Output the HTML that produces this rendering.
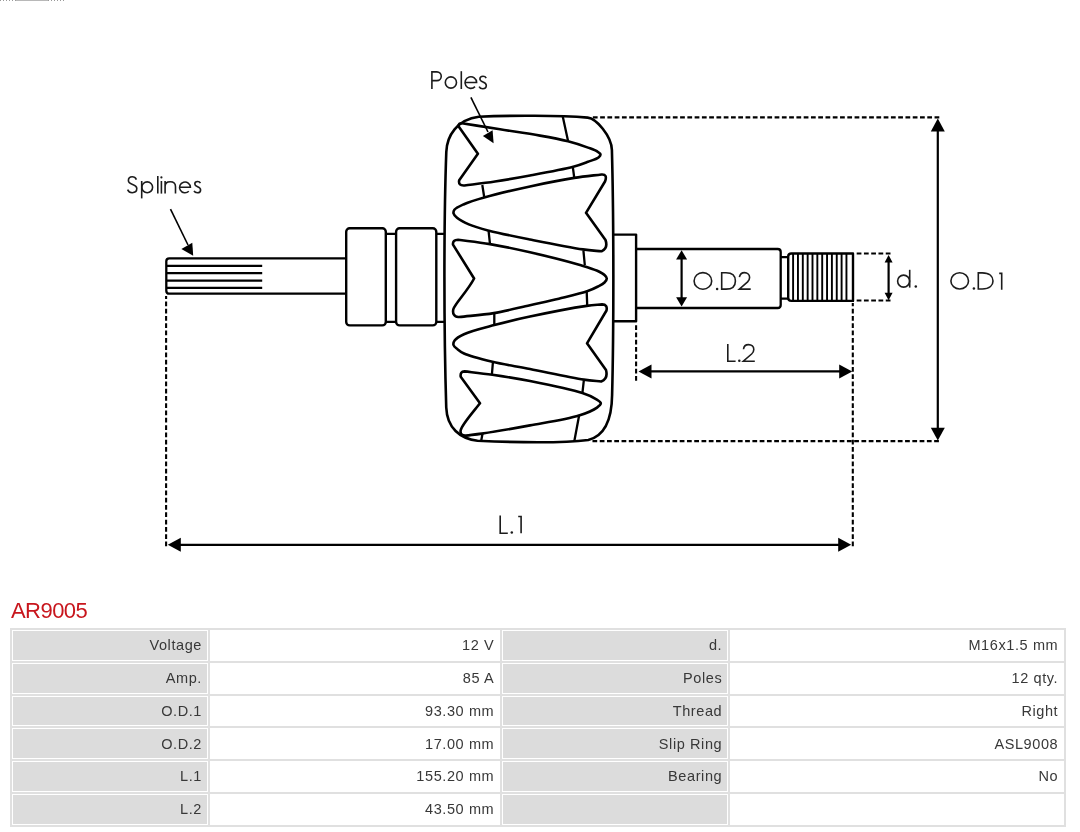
<!DOCTYPE html>
<html><head><meta charset="utf-8">
<style>
html,body{margin:0;padding:0;background:#fff;width:1080px;height:832px;overflow:hidden;position:relative}
body{font-family:"Liberation Sans",sans-serif}
#draw{position:absolute;left:0;top:0}
#title{will-change:transform;position:absolute;left:11px;top:597px;font-size:22px;letter-spacing:-0.55px;color:#c8161d;line-height:28px;white-space:nowrap}
#tbl{will-change:transform;position:absolute;left:10px;top:628px;border-collapse:separate;border-spacing:2px;background:#e0e0e0;table-layout:fixed;width:1056px}
#tbl td{border:1px solid #fff;height:28.75px;padding:0 5px 0 0;letter-spacing:0.6px;text-align:right;font-size:14.5px;color:#383838;white-space:nowrap;box-sizing:content-box;line-height:16px}
#tbl td.l{background:#dcdcdc}
#tbl td.v{background:#fff}
</style></head><body>
<svg id="draw" width="1080" height="600" viewBox="0 0 1080 600">
<g fill="none" stroke="#000" stroke-linejoin="round" stroke-linecap="butt">
 <!-- splined shaft -->
 <path d="M346.2,258.3 H169.3 Q166.3,258.3 166.3,261.3 V290.7 Q166.3,293.7 169.3,293.7 H346.2" stroke-width="2.3"/>
 <path d="M166.3,265.9 H262.2 M166.3,273.2 H262.2 M166.3,280.6 H262.2 M166.3,287.8 H262.2" stroke-width="2.3"/>
 <!-- rings -->
 <rect x="346.2" y="228.3" width="39.6" height="97.1" rx="3.5" stroke-width="2.4"/>
 <rect x="396.1" y="228.3" width="40.2" height="97.1" rx="3.5" stroke-width="2.4"/>
 <path d="M385.8,233.8 H396.1 M385.8,321.8 H396.1 M436.3,233.8 H445 M436.3,321.8 H445" stroke-width="2.3"/>
 <!-- collar + shaft -->
 <path d="M613,234.6 H636.1 V321.3 H613" stroke-width="2.4"/>
 <path d="M636.1,249 H777.7 Q780.7,249 780.7,252 V305 Q780.7,308 777.7,308 H636.1" stroke-width="2.3"/>
 <path d="M780.7,257.2 H788.2 M780.7,298.7 H788.2" stroke-width="2.3"/>
 <path d="M853,253.5 H791.3 Q788.2,253.5 788.2,256.6 V297.8 Q788.2,300.9 791.3,300.9 H853 Z" stroke-width="2.4"/>
 <path d="M793.10,253.5 V300.9 M797.95,253.5 V300.9 M802.80,253.5 V300.9 M807.65,253.5 V300.9 M812.50,253.5 V300.9 M817.35,253.5 V300.9 M822.20,253.5 V300.9 M827.05,253.5 V300.9 M831.90,253.5 V300.9 M836.75,253.5 V300.9 M841.60,253.5 V300.9 M846.45,253.5 V300.9" stroke-width="1.9"/>
 <!-- rotor outline -->
 <path d="M478.8,116.8 C510,115.2 560,115.4 587.7,117.6 C596,118.2 611.5,136 611.9,150 C613.8,220 613.8,330 612.1,395 C611.8,420 604,436 588.3,440 C570,442.3 540,443.5 477.5,440.8 C460,438.5 447,428 446.25,407.5 C443.8,330 443.8,220 446.3,152 C446.8,136 457,119.5 478.8,116.8 Z" stroke-width="2.6"/>
 <!-- core lines -->
 <path d="M562.7,116.3 L568,140.8 M572.8,166.8 L574.2,177.4 M482.3,185 L484.2,197 M488.6,231.2 L490,244.1 M583.4,250.4 L584.8,265 M586.7,291.4 L587.2,305.4 M494.3,313.1 L494.3,324.6 M492.9,362.3 L491.9,374.3 M583.8,380.6 L582.4,393.1 M579.2,415 L574.2,441.7 M482.5,433.75 L481.25,440.5" stroke-width="2.3"/>
 <!-- poles -->
 <g stroke-width="2.6">
 <path d="M458.5,126.2 Q458.6,123 462,123.2 C474.7,125.2 487.2,127.3 500.0,129.3 C513.2,131.4 527.9,133.4 540.0,135.6 C550.2,137.4 559.5,139.1 568.0,141.3 C575.3,143.2 582.6,145.6 588.0,147.6 C591.8,149.0 595.3,150.1 597.5,151.6 C598.9,152.5 600.4,153.6 600.5,154.6 C600.6,155.5 599.6,156.5 598.5,157.4 C596.5,159.0 591.8,160.4 588.0,161.8 C583.5,163.5 579.6,165.1 573.3,166.8 C562.7,169.6 543.7,173.0 530.0,175.5 C517.7,177.8 506.3,179.8 495.0,181.5 C484.5,183.1 474.7,184.2 464.5,185.5 Q458,186 459.2,180.2 L477.9,153.8 L458.5,126.2 Z"/>
 <path d="M601.5,174.5 Q607.8,174 605,181.5 L586,212.8 L605.5,240 Q608.3,248 601.5,251.3 C595.3,250.7 590.7,250.5 582.9,249.4 C569.7,247.5 546.5,242.8 530.0,239.5 C515.4,236.6 500.2,233.6 489.0,230.7 C481.0,228.6 474.5,226.9 468.8,224.4 C464.2,222.4 459.6,220.0 457.0,217.8 C455.3,216.4 453.9,215.1 453.6,213.6 C453.3,212.4 453.5,211.0 454.4,209.8 C455.9,207.8 460.1,206.0 464.0,204.2 C469.4,201.8 476.0,199.8 484.2,197.5 C496.3,194.0 514.8,189.7 530.0,186.4 C544.8,183.2 561.2,180.0 574.2,177.9 C584.4,176.3 592.4,175.6 601.5,174.5 Z"/>
 <path d="M453,244.6 Q452.5,239.8 458,239.8 C468.7,241.2 478.8,242.2 490.0,244.1 C502.6,246.2 516.0,249.1 530.0,252.3 C545.8,255.9 567.7,261.4 580.0,265.0 C587.3,267.2 592.9,268.8 597.3,270.8 C600.3,272.2 602.9,273.5 604.5,275.0 C605.7,276.1 606.8,277.3 606.8,278.5 C606.8,279.8 605.7,281.3 604.5,282.5 C603.0,284.0 600.5,285.2 598.0,286.5 C595.0,288.1 592.1,289.5 587.7,291.0 C580.6,293.5 568.4,296.3 558.8,298.7 C549.2,301.1 540.2,302.9 530.0,305.2 C518.6,307.7 505.8,311.1 493.8,313.1 C482.1,315.0 470.6,315.7 459.0,317.0 C454,317.5 452.3,313 453.4,309 C455,303.5 468,290.5 474.1,278.5 Z"/>
 <path d="M602.1,304.4 Q607.8,304.5 606.5,310.5 L587,343.3 L606,370 Q608.3,378.8 601.2,381.5 C595.4,380.9 591.2,380.7 583.8,379.6 C570.8,377.6 546.3,372.2 530.0,369.0 C516.4,366.3 504.0,364.6 492.4,361.8 C482.2,359.3 470.0,356.3 464.0,353.5 C460.9,352.1 459.3,350.7 457.5,349.2 C455.9,347.9 453.9,346.6 453.5,345.0 C453.1,343.6 453.7,341.8 454.8,340.3 C456.4,338.1 459.9,336.1 464.0,334.2 C471.0,330.9 483.7,327.9 494.3,325.1 C505.7,322.0 516.7,319.4 530.0,316.6 C546.7,313.0 573.7,307.8 586.7,305.9 C593.4,304.9 597.0,304.9 602.1,304.4 Z"/>
 <path d="M460.7,376.7 Q460,371.5 464.5,371.4 C473.8,372.5 482.4,373.4 492.4,374.8 C504.0,376.5 516.5,378.4 530.0,381.1 C546.1,384.3 570.9,389.3 582.4,393.1 C588.3,395.1 592.2,396.8 595.5,398.8 C597.8,400.2 600.7,401.7 600.8,403.2 C600.9,404.6 599.0,406.1 597.0,407.6 C593.4,410.3 586.6,413.1 579.0,415.5 C566.8,419.4 546.3,422.4 530.0,425.4 C513.9,428.4 493.4,431.9 481.7,433.6 C475.0,434.6 471.2,434.9 466.0,435.6 Q460,436 460.6,430.5 C461.5,425 474,411 480,403.2 Z"/>
 </g>
</g>
<!-- dashed lines -->
<g fill="none" stroke="#000" stroke-width="2.1" stroke-dasharray="4.75 2.52">
 <path d="M939.3,117.4 H591"/>
 <path d="M938.9,441.1 H591"/>
 <path d="M166.1,546.2 V296"/>
 <path d="M636.1,380.8 V324"/>
 <path d="M852.8,546.2 V303"/>
 <path d="M890.5,253.5 H855"/>
 <path d="M890.5,300.5 H855"/>
</g>
<!-- arrows -->
<g stroke="#000" stroke-width="2.2" fill="none">
 <path d="M937.8,128 V431"/>
 <path d="M681.6,258 V299"/>
 <path d="M888.6,262 V294"/>
 <path d="M648,371.4 H843"/>
 <path d="M178,544.8 H842"/>
 <path d="M170.5,209.1 L188,245" stroke-width="1.6"/>
 <path d="M470.9,97.3 L488,132" stroke-width="1.6"/>
</g>
<g fill="#000" stroke="none">
 <path d="M937.8,118.5 L944.8,131.5 H930.8 Z"/>
 <path d="M937.8,440.5 L944.8,427.8 H930.8 Z"/>
 <path d="M681.6,250.2 L687.1,259.5 H676.1 Z"/>
 <path d="M681.6,306.5 L687.1,297.2 H676.1 Z"/>
 <path d="M888.6,255 L892.6,262.5 H884.6 Z"/>
 <path d="M888.6,300.2 L892.6,292.7 H884.6 Z"/>
 <path d="M638.5,371.4 L651.5,364.4 V378.4 Z"/>
 <path d="M852.2,371.4 L839.2,364.4 V378.4 Z"/>
 <path d="M167.8,544.8 L180.8,537.8 V551.8 Z"/>
 <path d="M851.2,544.8 L838.2,537.8 V551.8 Z"/>
 <path d="M193.2,255.8 L181.4,249.1 L192.3,242.7 Z"/>
 <path d="M493.6,143.3 L482.9,136.1 L492.6,130.2 Z"/>
</g>
<!-- labels -->
<g fill="none" stroke="#1c1c1c" stroke-width="1.6" stroke-linecap="butt" stroke-linejoin="miter">
 <!-- Poles -->
 <path d="M431.9,89 V71.9 H436.9 A4.35,4.35 0 0 1 436.9,80.6 H431.9"/>
 <ellipse cx="450.9" cy="82.5" rx="5.6" ry="5.6"/>
 <path d="M461.3,71.2 V89"/>
 <path d="M465.1,82.5 H476.6 A5.8,5.8 0 1 0 475.0,86.6"/>
 <path d="M486.2,78.2 C485.6,76.9 484.3,76.3 483,76.3 C481,76.3 479.9,77.5 479.9,79 C479.9,82.6 486.3,81.6 486.3,85.5 C486.3,87.5 484.9,88.7 482.8,88.7 C481.2,88.7 479.8,88 479.1,86.6"/>
 <!-- Splines -->
 <path d="M136.4,179.6 C135.6,177.7 134,176.8 132.2,176.8 C129.8,176.8 128.4,178.5 128.4,180.5 C128.4,185.3 136.8,183.9 136.8,188.6 C136.8,191.1 134.9,192.7 132.2,192.7 C130,192.7 128.4,191.5 127.6,189.6"/>
 <path d="M141.7,181 V198.4"/>
 <ellipse cx="147.2" cy="187.3" rx="5.4" ry="5.4"/>
 <path d="M157.8,175.9 V193.6"/>
 <path d="M161.4,181 V193.6"/>
 <path d="M165.1,181 V193.6 M165.1,186.4 C165.1,183.2 167.3,181.8 170.2,181.8 C173.4,181.8 175.5,183.4 175.5,186.8 V193.6"/>
 <path d="M179.6,187.3 H190.4 A5.4,5.4 0 1 0 188.8,191.2"/>
 <path d="M200.4,183.1 C199.9,182 198.8,181.5 197.6,181.5 C195.8,181.5 194.8,182.6 194.8,184 C194.8,187.3 200.6,186.4 200.6,189.9 C200.6,191.7 199.4,192.8 197.4,192.8 C195.9,192.8 194.6,192.1 194,190.9"/>
 <!-- O.D2 -->
 <ellipse cx="702.9" cy="280.9" rx="8.8" ry="8.3"/>
 <path d="M721.7,272.7 V289.1 H726 C732.8,289.1 735.4,285.2 735.4,280.9 C735.4,276.6 732.8,272.7 726,272.7 Z"/>
 <path d="M739.4,277.2 C739.9,274.4 741.9,272.6 744.5,272.6 C747.5,272.6 749.6,274.7 749.6,277.5 C749.6,279.3 748.8,280.6 747.6,281.9 L739.3,289.1 H750.7"/>
 <!-- d. -->
 <ellipse cx="903.6" cy="281.1" rx="6" ry="6"/>
 <path d="M909.7,269.8 V287.6"/>
 <!-- O.D1 -->
 <ellipse cx="959.7" cy="280.9" rx="8.8" ry="8.1"/>
 <path d="M978.3,272.9 V289 H982.2 C989.9,289 993,285 993,280.9 C993,276.8 989.9,272.9 982.2,272.9 Z"/>
 <path d="M999.2,273.4 H1001.7 V289.8"/>
 <!-- L.2 -->
 <path d="M727.8,344.1 V361.2 H735.6"/>
 <path d="M743.5,349.3 C743.8,346.1 745.8,344.6 748.5,344.6 C751.6,344.6 753.8,346.6 753.8,349.5 C753.8,351.4 753,352.7 751.6,354 L743.3,361.2 H754.8"/>
 <!-- L.1 -->
 <path d="M500.2,515.6 V533.2 H507.8"/>
 <path d="M518.2,516.5 H521.1 V533.2"/>
</g>
<g fill="#1a1a1a" stroke="none">
 <circle cx="161.4" cy="177.4" r="1.1"/>
 <circle cx="717.1" cy="289" r="1.25"/>
 <circle cx="915.8" cy="286.5" r="1.25"/>
 <circle cx="973.9" cy="288.6" r="1.25"/>
 <circle cx="739.3" cy="360.7" r="1.25"/>
 <circle cx="511.8" cy="532.6" r="1.25"/>
</g>
</svg>
<div style="position:absolute;left:0;top:0;width:64px;height:1px;background:linear-gradient(90deg,transparent 16px,#b8b8b8 16px,#b8b8b8 48px,transparent 48px),repeating-linear-gradient(90deg,#9a9a9a 0 1px,transparent 1px 3px)"></div>
<div id="title">AR9005</div>
<table id="tbl">
<colgroup><col style="width:196px"><col style="width:290.25px"><col style="width:226px"><col style="width:334px"></colgroup>
<tr><td class="l">Voltage</td><td class="v">12 V</td><td class="l">d.</td><td class="v">M16x1.5 mm</td></tr>
<tr><td class="l">Amp.</td><td class="v">85 A</td><td class="l">Poles</td><td class="v">12 qty.</td></tr>
<tr><td class="l">O.D.1</td><td class="v">93.30 mm</td><td class="l">Thread</td><td class="v">Right</td></tr>
<tr><td class="l">O.D.2</td><td class="v">17.00 mm</td><td class="l">Slip Ring</td><td class="v">ASL9008</td></tr>
<tr><td class="l">L.1</td><td class="v">155.20 mm</td><td class="l">Bearing</td><td class="v">No</td></tr>
<tr><td class="l">L.2</td><td class="v">43.50 mm</td><td class="l"></td><td class="v"></td></tr>
</table>
</body></html>
